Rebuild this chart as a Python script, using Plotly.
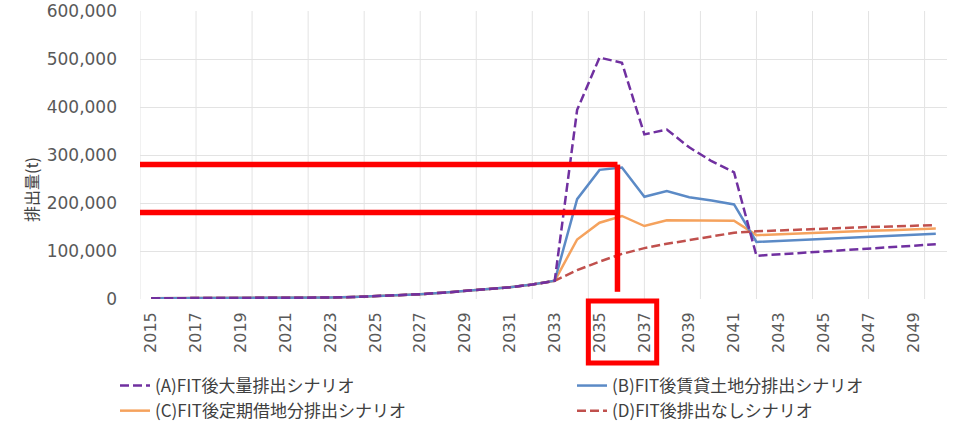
import plotly.graph_objects as go

# Years on the horizontal axis
years = list(range(2015, 2051))

# Shared ramp-up 2015-2033 (t)
ramp = [1500, 1500, 1500, 1500, 1500, 1500, 1800, 2200, 3000, 4000,
        5500, 7500, 10000, 13000, 16500, 20500, 24500, 30000, 38000]

# 2034-2050 per scenario (t)
series_a = ramp + [394000, 503000, 492000, 343000, 353000, 316000, 287000, 264000,
                   90000, 93000, 96000, 99000, 102000, 105000, 108000, 111000, 114000]
series_b = ramp + [208000, 269000, 274000, 213000, 225000, 212000, 205000, 197000,
                   119000, 121000, 123000, 126000, 128000, 130000, 132000, 134000, 136000]
series_c = ramp + [124000, 159000, 173000, 152000, 164000, 164000, 164000, 163000,
                   133000, 135000, 137000, 139000, 140000, 142000, 143000, 145000, 147000]
series_d = ramp + [60000, 78000, 94000, 106000, 115000, 123000, 131000, 138000,
                   141000, 143000, 145000, 147000, 148000, 150000, 151000, 152000, 154000]

names = ["(A)FIT後大量排出シナリオ", "(B)FIT後賃貸土地分排出シナリオ",
         "(C)FIT後定期借地分排出シナリオ", "(D)FIT後排出なしシナリオ"]

y_ticks = [0, 100000, 200000, 300000, 400000, 500000, 600000]
x_ticks = list(range(2015, 2051, 2))

# Highlight levels
level_high = 280000
level_low = 180000
mark_year = 2035.8

x_range = [2014.5, 2050.5]
DASH = "9px,4px"

fig = go.Figure()
# drawing order: C, B, D, A (A on top); left legend holds A/C, right legend B/D
fig.add_trace(go.Scatter(x=years, y=series_c, name=names[2], mode="lines",
                         line=dict(color="#F5A25D", width=2.5),
                         legend="legend", legendrank=2))
fig.add_trace(go.Scatter(x=years, y=series_b, name=names[1], mode="lines",
                         line=dict(color="#5B8AC6", width=2.5),
                         legend="legend2", legendrank=1))
fig.add_trace(go.Scatter(x=years, y=series_d, name=names[3], mode="lines",
                         line=dict(color="#C0504D", width=2.5, dash=DASH),
                         legend="legend2", legendrank=2))
fig.add_trace(go.Scatter(x=years, y=series_a, name=names[0], mode="lines",
                         line=dict(color="#7030A0", width=2.5, dash=DASH),
                         legend="legend", legendrank=1))

shapes = []
# vertical gridlines every 2.5 years
g = x_range[0]
while g <= x_range[1] + 1e-9:
    shapes.append(dict(type="line", xref="x", yref="paper", x0=g, x1=g, y0=0, y1=1,
                       line=dict(color="#E3E3E3", width=1), layer="below"))
    g += 2.5

red = dict(color="#FF0000", width=5.5)
shapes += [
    dict(type="line", xref="x", yref="y", x0=x_range[0], x1=mark_year,
         y0=level_high, y1=level_high, line=red),
    dict(type="line", xref="x", yref="y", x0=x_range[0], x1=mark_year,
         y0=level_low, y1=level_low, line=red),
    dict(type="line", xref="x", yref="y", x0=mark_year, x1=mark_year,
         y0=level_high, y1=15000, line=red),
    dict(type="rect", xref="x", yref="paper", x0=2034.5, x1=2037.55,
         y0=-0.0073, y1=-0.222, line=dict(color="#FF0000", width=5)),
]

legend_font = dict(family="Noto Sans CJK JP", size=17, color="#404040")
legend_common = dict(orientation="v", xanchor="left", yanchor="top",
                     font=legend_font, bgcolor="rgba(0,0,0,0)", tracegroupgap=0)

fig.update_layout(
    width=960, height=423,
    margin=dict(l=140, r=13, t=11, b=124, autoexpand=False),
    paper_bgcolor="white", plot_bgcolor="white",
    font=dict(family="DejaVu Sans", color="#595959"),
    shapes=shapes,
    xaxis=dict(range=x_range, tickmode="array", tickvals=x_ticks,
               ticktext=[str(v) for v in x_ticks], tickangle=-90,
               tickfont=dict(size=16, color="#595959"), automargin=False,
               showgrid=False, zeroline=False, showline=False, ticks="",
               ticklabelstandoff=9),
    yaxis=dict(range=[0, 600000], tickvals=y_ticks, tickformat=",",
               tickfont=dict(size=17, color="#595959"), automargin=False,
               showgrid=True, gridcolor="#E3E3E3", gridwidth=1,
               zeroline=False, showline=False, ticks="", ticklabelstandoff=22),
    legend=dict(x=(115 - 140) / 807, y=(299 - 368) / 288, **legend_common),
    legend2=dict(x=(572 - 140) / 807, y=(299 - 368) / 288, **legend_common),
    annotations=[dict(text="排出量(t)", xref="paper", yref="paper",
                      x=(31 - 140) / 807, y=(299 - 190) / 288, xanchor="center",
                      yanchor="middle", textangle=-90, showarrow=False,
                      font=dict(family="Noto Sans CJK JP", size=16, color="#404040"))],
    showlegend=True,
)

fig.write_html("out.html")
